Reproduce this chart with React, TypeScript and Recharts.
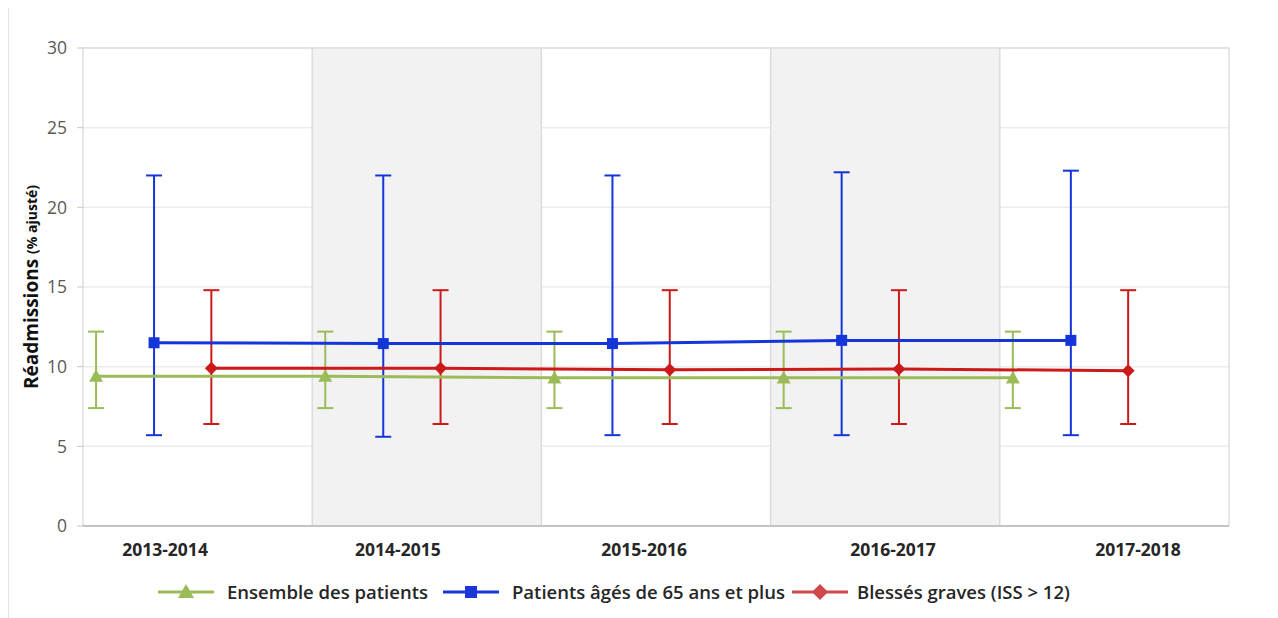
import React from 'react';
import {
  ScatterChart, Scatter, XAxis, YAxis, CartesianGrid, ErrorBar,
  ReferenceArea, ReferenceLine, Legend, Customized,
} from 'recharts';

// ---- Data ----
const categories = ['2013-2014', '2014-2015', '2015-2016', '2016-2017', '2017-2018'];

const ensembleValues = [9.4, 9.4, 9.3, 9.3, 9.3];
const ensembleLow = [7.4, 7.4, 7.4, 7.4, 7.4];
const ensembleHigh = [12.2, 12.2, 12.2, 12.2, 12.2];

const ainesValues = [11.5, 11.45, 11.45, 11.65, 11.65];
const ainesLow = [5.7, 5.6, 5.7, 5.7, 5.7];
const ainesHigh = [22.0, 22.0, 22.0, 22.2, 22.3];

const blessesValues = [9.9, 9.9, 9.8, 9.85, 9.75];
const blessesLow = [6.4, 6.4, 6.4, 6.4, 6.4];
const blessesHigh = [14.8, 14.8, 14.8, 14.8, 14.8];

const yTicks = [0, 5, 10, 15, 20, 25, 30];

// ---- Layout (positions within each category band) ----
const seriesOffset = { ensemble: 0.057, aines: 0.31, blesses: 0.56 };
const labelOffset = [0.358, 0.374, 0.448, 0.534, 0.603];

const GREEN = '#9bbb59';
const BLUE = '#1436d8';
const RED = '#cc1a1a';

const build = (vals: number[], low: number[], high: number[], off: number) =>
  vals.map((v, i) => ({ x: i + off, y: v, err: [v - low[i], high[i] - v] }));

const ensembleData = build(ensembleValues, ensembleLow, ensembleHigh, seriesOffset.ensemble);
const ainesData = build(ainesValues, ainesLow, ainesHigh, seriesOffset.aines);
const blessesData = build(blessesValues, blessesLow, blessesHigh, seriesOffset.blesses);

const xTicks = categories.map((_, i) => i + labelOffset[i]);

const FONT = '"Open Sans", Lato, sans-serif';

const Triangle = (p: any) => {
  const { cx, cy, fill } = p;
  const s = 7;
  return <polygon points={`${cx},${cy - s} ${cx + s},${cy + s * 0.8} ${cx - s},${cy + s * 0.8}`} fill={fill} />;
};
const Square = (p: any) => {
  const { cx, cy, fill } = p;
  const s = 5.5;
  return <rect x={cx - s} y={cy - s} width={s * 2} height={s * 2} fill={fill} />;
};
const Diamond = (p: any) => {
  const { cx, cy, fill } = p;
  const s = 6.5;
  return <polygon points={`${cx},${cy - s} ${cx + s},${cy} ${cx},${cy + s} ${cx - s},${cy}`} fill={fill} />;
};

const legendItems = [
  { name: 'Ensemble des patients', color: GREEN, shape: 'triangle' },
  { name: 'Patients âgés de 65 ans et plus', color: '#1a35d8', shape: 'square' },
  { name: 'Blessés graves (ISS > 12)', color: '#d04848', shape: 'diamond' },
];

const LegendIcon = ({ color, shape }: { color: string; shape: string }) => (
  <svg width={56} height={24} style={{ display: 'block' }}>
    <line x1={0} y1={12} x2={56} y2={12} stroke={color} strokeWidth={3} />
    {shape === 'triangle' && <polygon points="28,4 36,18 20,18" fill={color} />}
    {shape === 'square' && <rect x={22} y={6} width={12} height={12} fill={color} />}
    {shape === 'diamond' && <polygon points="28,4 36,12 28,20 20,12" fill={color} />}
  </svg>
);

const renderLegend = () => (
  <div style={{ display: 'flex', alignItems: 'center', fontFamily: FONT, whiteSpace: 'nowrap' }}>
    {legendItems.map((it, i) => (
      <div key={it.name} style={{ display: 'flex', alignItems: 'center', marginRight: i === 0 ? 15 : i === 1 ? 7 : 0 }}>
        <LegendIcon color={it.color} shape={it.shape} />
        <span style={{ marginLeft: i === 2 ? 9 : 13, fontSize: 18.5, fontWeight: 600, color: '#262626' }}>{it.name}</span>
      </div>
    ))}
  </div>
);

const YLabel = (props: any) => {
  const vb = props.viewBox || {};
  const cx = 25;
  const cy = vb.y + vb.height / 2;
  return (
    <text
      x={cx}
      y={cy}
      transform={`rotate(-90, ${cx}, ${cy})`}
      textAnchor="middle"
      dominantBaseline="central"
      fontFamily={FONT}
      fontWeight={700}
      fill="#111"
    >
      <tspan fontSize={19}>Réadmissions </tspan>
      <tspan fontSize={14}>(% ajusté)</tspan>
    </text>
  );
};

const OuterFrame = () => (
  <rect x={1.5} y={1.5} width={1265} height={660} fill="none" stroke="#c6c6c6" strokeWidth={2} />
);

export default function App() {
  return (
    <div style={{ position: 'relative', width: 1268, height: 625, marginLeft: -2, marginTop: -3 }}>
      <ScatterChart
        width={1268}
        height={625}
        margin={{ top: 43, right: 12, bottom: 64, left: 12 }}
        style={{ background: '#fff' }}
      >
        <ReferenceArea yAxisId="left" x1={1} x2={2} y1={0} y2={30} fill="#f2f2f2" fillOpacity={1} stroke="none" ifOverflow="visible" />
        <ReferenceArea yAxisId="left" x1={3} x2={4} y1={0} y2={30} fill="#f2f2f2" fillOpacity={1} stroke="none" ifOverflow="visible" />
        <CartesianGrid yAxisId="left" vertical={false} stroke="#ececec" strokeWidth={1.5} />
        {[1, 2, 3, 4].map((v) => (
          <ReferenceLine key={v} yAxisId="left" x={v} stroke="#dcdcdc" strokeWidth={1.5} />
        ))}
        <ReferenceArea yAxisId="left" x1={0} x2={5} y1={0} y2={30} fill="none" stroke="#dedede" strokeWidth={1.5} ifOverflow="visible" />
        <XAxis
          type="number"
          dataKey="x"
          domain={[0, 5]}
          ticks={xTicks}
          tickFormatter={(v: number) => categories[Math.floor(v)]}
          interval={0}
          height={40}
          axisLine={{ stroke: '#c4c4c4', strokeWidth: 2 }}
          tickLine={false}
          tickSize={6}
          tickMargin={12}
          tick={{ fontSize: 17.5, fontWeight: 700, fill: '#262626', fontFamily: FONT }}
          allowDataOverflow
        />
        <YAxis
          yAxisId="left"
          type="number"
          dataKey="y"
          domain={[0, 30]}
          ticks={yTicks}
          width={65}
          axisLine={false}
          tickLine={{ stroke: '#c8c8c8' }}
          tickSize={6}
          tickMargin={10}
          tick={{ fontSize: 17.5, fill: '#595959', fontFamily: FONT }}
          label={{ content: YLabel }}
        />
        <YAxis
          yAxisId="right"
          orientation="right"
          type="number"
          domain={[0, 30]}
          ticks={yTicks}
          width={33}
          axisLine={false}
          tickLine={false}
          tickSize={0}
          tickMargin={12}
          tick={{ fontSize: 17.5, fill: '#595959', fontFamily: FONT, textAnchor: 'start' }}
        />
        <Scatter
          yAxisId="left"
          name="Ensemble des patients"
          data={ensembleData}
          fill={GREEN}
          line={{ stroke: GREEN, strokeWidth: 3 }}
          lineType="joint"
          shape={Triangle}
          isAnimationActive={false}
        >
          <ErrorBar dataKey="err" direction="y" width={8} stroke={GREEN} strokeWidth={2} />
        </Scatter>
        <Scatter
          yAxisId="left"
          name="Patients âgés de 65 ans et plus"
          data={ainesData}
          fill={BLUE}
          line={{ stroke: BLUE, strokeWidth: 3 }}
          lineType="joint"
          shape={Square}
          isAnimationActive={false}
        >
          <ErrorBar dataKey="err" direction="y" width={8} stroke={BLUE} strokeWidth={2} />
        </Scatter>
        <Scatter
          yAxisId="left"
          name="Blessés graves (ISS > 12)"
          data={blessesData}
          fill={RED}
          line={{ stroke: RED, strokeWidth: 3 }}
          lineType="joint"
          shape={Diamond}
          isAnimationActive={false}
        >
          <ErrorBar dataKey="err" direction="y" width={8} stroke={RED} strokeWidth={2} />
        </Scatter>
        <Customized component={OuterFrame} />
        <Legend
          layout="horizontal"
          verticalAlign="middle"
          align="center"
          content={renderLegend}
          wrapperStyle={{ top: 574, left: 152, width: 'auto', height: 26 }}
        />
      </ScatterChart>
    </div>
  );
}
